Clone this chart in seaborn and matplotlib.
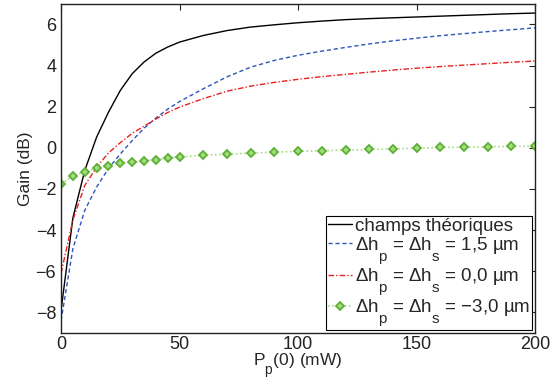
import matplotlib
matplotlib.use('Agg')
import numpy as np
import pandas as pd
import matplotlib.pyplot as plt
import seaborn as sns

# ---- data ----
p_dense = [0, 5, 10, 15, 20, 25, 30, 35, 40, 45, 50, 60, 70, 80, 90, 100,
           110, 120, 130, 140, 150, 160, 170, 180, 190, 200]
gain_theo = [-7.9, -3.4, -1.1, 0.52, 1.73, 2.79, 3.6, 4.17, 4.6, 4.9, 5.14, 5.46,
             5.7, 5.87, 5.98, 6.08, 6.16, 6.23, 6.28, 6.32, 6.36, 6.40, 6.44,
             6.48, 6.52, 6.55]
gain_15 = [-8.4, -4.9, -3.04, -1.91, -1.0, -0.3, 0.35, 0.95, 1.45, 1.88, 2.25, 2.87,
           3.45, 3.92, 4.25, 4.5, 4.7, 4.88, 5.05, 5.2, 5.33, 5.45, 5.55, 5.65,
           5.74, 5.83]
gain_00 = [-6.1, -3.5, -1.83, -0.94, -0.25, 0.25, 0.7, 1.05, 1.4, 1.72, 1.98, 2.39,
           2.75, 3.0, 3.18, 3.33, 3.46, 3.57, 3.68, 3.78, 3.87, 3.95, 4.02, 4.09,
           4.16, 4.22]
gain_m30 = [-1.75, -1.38, -1.16, -0.99, -0.86, -0.76, -0.70, -0.63, -0.57, -0.50,
            -0.45, -0.36, -0.31, -0.26, -0.21, -0.17, -0.14, -0.11, -0.08, -0.05,
            -0.02, 0.02, 0.03, 0.05, 0.07, 0.08]

labels = ['champs théoriques',
          r'$\Delta$h$_p$ = $\Delta$h$_s$ = 1,5 µm',
          r'$\Delta$h$_p$ = $\Delta$h$_s$ = 0,0 µm',
          r'$\Delta$h$_p$ = $\Delta$h$_s$ = −3,0 µm']

x_ticks = [0, 50, 100, 150, 200]
y_ticks = [-8, -6, -4, -2, 0, 2, 4, 6]

sns.set_style("white")
plt.rcParams['font.family'] = ['Liberation Sans', 'DejaVu Sans']
plt.rcParams['mathtext.fontset'] = 'custom'
plt.rcParams['mathtext.rm'] = 'Liberation Sans'
plt.rcParams['mathtext.it'] = 'Liberation Sans'

# matlab style subscripts: bigger and lower
try:
    from matplotlib import _mathtext
    _mathtext.SHRINK_FACTOR = 0.8
    _mathtext.FontConstantsBase.sub1 = 1.1
    _mathtext.FontConstantsBase.subdrop = 1.1
except Exception:
    pass

df = pd.DataFrame({'P': p_dense, 'theo': gain_theo, 'a': gain_15,
                   'b': gain_00, 'c': gain_m30})

fig = plt.figure(figsize=(5.5, 3.81), dpi=100)
ax = fig.add_axes([0.111, 0.126, 0.862, 0.864])

sns.lineplot(data=df, x='P', y='theo', ax=ax, color='black', lw=1.0,
             label=labels[0])
sns.lineplot(data=df, x='P', y='a', ax=ax, color='#2f55b8', lw=1.0,
             linestyle=(0, (3, 2)), label=labels[1])
sns.lineplot(data=df, x='P', y='b', ax=ax, color='#e82020', lw=1.0,
             linestyle=(0, (4, 1.5, 1, 1.5)), label=labels[2])
sns.lineplot(data=df, x='P', y='c', ax=ax, color='#a8dc88', lw=1.2,
             linestyle=(0, (1, 1.5)), marker='D', markersize=4.5,
             markerfacecolor='#a6da80', markeredgecolor='#5cb032',
             markeredgewidth=1.3, label=labels[3])

ax.set_xlim(0, 200)
ax.set_ylim(-9, 7)
ax.set_xticks(x_ticks)
ax.set_yticks(y_ticks)
ax.tick_params(direction='in', length=4, width=0.8, labelsize=13,
               top=True, right=True, colors='#222222')
ax.tick_params(axis='x', pad=2)
for s in ax.spines.values():
    s.set_linewidth(1.0)
    s.set_color('#222222')
ax.set_xlabel(r'P$_p$(0) (mW)', fontsize=12.5, labelpad=-1)
ax.set_ylabel('Gain (dB)', fontsize=12.5, labelpad=2)

leg = ax.legend(loc='lower right', fontsize=13.5, frameon=True, fancybox=False,
                framealpha=1, edgecolor='black', borderpad=0.1,
                labelspacing=0.02, handlelength=1.3, handletextpad=0.15,
                borderaxespad=0.15)
leg.get_frame().set_linewidth(0.8)

fig.savefig('out.png', dpi=100)
